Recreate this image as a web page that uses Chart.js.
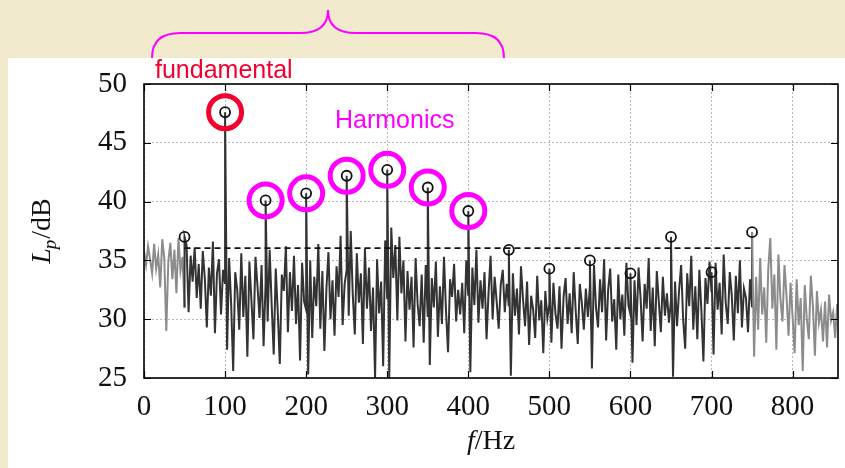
<!DOCTYPE html>
<html>
<head>
<meta charset="utf-8">
<script src="https://cdn.jsdelivr.net/npm/chart.js@4.4.1/dist/chart.umd.min.js"></script>
<style>
  html, body { margin: 0; padding: 0; background: #f1eacc; }
  #wrap { width: 845px; height: 468px; }
</style>
</head>
<body>
<div id="wrap"><canvas id="spectrum" width="845" height="468"></canvas></div>
<script>
// spectrum samples, 2.5 Hz apart, starting at 0 Hz (levels in dB)
const freqStep = 2.5;
const spectrumLevels = [
  35.8, 34.6, 36.2, 35.1, 33.9, 36.4, 34.3, 35.5, 32.7, 36.8, 35.2, 29.0, 34.9, 36.5, 33.4, 35.9, 32.2, 36.9, 34.1, 35.3,
  31.0, 36.3, 30.6, 35.4, 33.2, 36.1, 31.8, 34.7, 30.9, 35.8, 33.5, 29.3, 34.4, 32.0, 36.6, 28.8, 33.9, 35.1, 30.4, 34.2,
  33.0, 27.4, 35.2, 31.3, 25.6, 34.0, 32.5, 29.1, 35.6, 30.2, 33.7, 26.8, 34.9, 31.6, 28.3, 35.3, 32.8, 30.1, 34.6, 27.7,
  33.1, 29.8, 35.9, 31.2, 27.0, 34.3, 30.6, 26.2, 33.8, 32.4, 36.2, 28.9, 34.0, 30.7, 35.4, 29.6, 32.9, 26.5, 34.8, 31.5,
  30.8, 25.3, 35.0, 28.4, 33.6, 31.1, 36.4, 29.2, 34.1, 27.3, 32.6, 35.7, 30.0, 33.3, 28.6, 34.5, 31.9, 37.1, 29.5, 33.0,
  34.2, 30.3, 37.5, 32.1, 28.7, 35.6, 31.4, 33.9, 27.9, 36.0, 30.9, 34.4, 29.0, 32.7, 25.0, 35.1, 30.5, 33.2, 26.0, 36.7,
  31.7, 25.0, 37.8, 33.5, 36.3, 29.9, 37.0, 32.2, 35.0, 28.1, 34.1, 30.8, 33.6, 27.6, 35.2, 31.3, 29.4, 33.8, 28.0, 34.6,
  30.2, 26.1, 33.5, 31.0, 34.9, 28.5, 32.8, 29.6, 35.3, 30.7, 27.2, 33.4, 31.9, 34.7, 29.8, 32.5, 30.4, 33.1, 28.8, 35.0,
  32.0, 25.5, 34.4, 31.2, 35.9, 29.7, 33.3, 30.9, 34.0, 28.3, 32.3, 35.4, 30.0, 33.6, 31.5, 29.2, 32.9, 34.2, 30.6, 33.0,
  31.1, 25.2, 33.9, 30.3, 32.6, 28.7, 34.5, 31.7, 29.4, 33.2, 27.8, 32.0, 30.8, 28.4, 33.7, 29.9, 31.6, 27.1, 32.4, 30.1,
  31.3, 28.0, 33.1, 30.5, 29.2, 32.8, 27.5, 31.9, 33.5, 29.6, 32.2, 28.8, 34.0, 30.7, 27.9, 33.0, 31.4, 29.1, 32.6, 30.2,
  32.9, 25.8, 34.6, 31.0, 29.3, 33.4, 30.6, 35.1, 28.2, 32.5, 34.3, 29.8, 31.7, 27.4, 33.8, 30.0, 32.1, 28.6, 34.8, 31.2,
  30.4, 26.3, 33.3, 29.5, 34.4, 31.8, 28.1, 33.0, 30.9, 35.2, 29.0, 32.7, 27.7, 34.1, 31.5, 28.9, 33.6, 30.3, 32.2, 29.7,
  31.6, 25.1, 33.2, 29.4, 32.5, 34.6, 30.0, 27.5, 33.9, 31.1, 35.4, 29.1, 32.8, 28.3, 34.2, 30.7, 26.4, 33.5, 31.3, 34.9,
  32.3, 27.0, 34.8, 30.8, 33.1, 28.7, 35.5, 31.4, 29.6, 34.0, 32.0, 28.2, 33.7, 30.5, 35.0, 29.3, 32.6, 31.8, 28.9, 33.4,
  31.0, 26.8, 33.6, 29.1, 35.2, 30.4, 32.7, 28.0, 34.3, 36.9, 30.9, 33.8, 27.4, 35.5, 31.7, 29.8, 34.6, 32.0, 28.6, 33.1,
  30.2, 27.1, 33.4, 29.5, 31.8, 25.6, 32.9, 30.0, 28.3, 33.7, 31.2, 26.9, 32.4, 29.7, 30.8, 28.1, 31.5, 27.6, 32.1, 29.9,
  30.6, 28.4, 31.3
];

// marked harmonic peaks
const harmonicFreqs  = [50, 100, 150, 200, 250, 300, 350, 400, 450, 500, 550, 600, 650, 700, 750];
const harmonicLevels = [37.0, 47.6, 40.1, 40.7, 42.2, 42.7, 41.2, 39.2, 35.9, 34.3, 35.0, 33.9, 37.0, 34.0, 37.4];

// highlighted peaks (fundamental + harmonics)
const fundamentalFreq = 100;
const highlightFreqs = [100, 150, 200, 250, 300, 350, 400];

// dashed threshold line
const thresholdLevel = 36.05;
const thresholdFreqs = [50, 750];

const xTicks = [0, 100, 200, 300, 400, 500, 600, 700, 800];
const yTicks = [25, 30, 35, 40, 45, 50];

const darkLine = '#333333';
const greyLine = '#8c8c8c';
const red = '#f2002e';
const magenta = '#ff00ff';

// spectrum with the peak stems merged in at their frequencies
const spectrum = [];
spectrumLevels.forEach((v, i) => {
  const f = i * freqStep;
  spectrum.push({ x: f, y: v });
  const h = harmonicFreqs.indexOf(f);
  if (h >= 0) spectrum.push({ x: f, y: harmonicLevels[h] });
});

const peaks = harmonicFreqs.map((f, i) => ({ x: f, y: harmonicLevels[i] }));
const highlights = peaks.filter(p => highlightFreqs.includes(p.x));

const framePlugin = {
  id: 'frame',
  beforeDraw(chart) {
    const c = chart.ctx;
    c.save();
    c.fillStyle = '#f1eacc';
    c.fillRect(0, 0, chart.width, chart.height);
    c.fillStyle = '#ffffff';
    c.fillRect(8, 58, chart.width - 8, chart.height - 58);

    // brace over the fundamental + harmonics
    c.strokeStyle = magenta;
    c.lineWidth = 2;
    c.beginPath();
    c.moveTo(152, 58);
    c.quadraticCurveTo(152, 33, 180, 33);
    c.lineTo(300, 33);
    c.quadraticCurveTo(328, 33, 328, 10);
    c.quadraticCurveTo(328, 33, 356, 33);
    c.lineTo(476, 33);
    c.quadraticCurveTo(504, 33, 504, 58);
    c.stroke();
    c.restore();
  },
  afterDraw(chart) {
    const c = chart.ctx;
    const a = chart.chartArea;
    const xs = chart.scales.x, ys = chart.scales.y;
    c.save();
    // inward tick marks
    c.strokeStyle = '#000';
    c.lineWidth = 1.2;
    c.beginPath();
    xTicks.forEach(t => {
      const px = Math.round(xs.getPixelForValue(t)) + 0.5;
      c.moveTo(px, a.bottom); c.lineTo(px, a.bottom - 7);
      c.moveTo(px, a.top); c.lineTo(px, a.top + 7);
    });
    yTicks.forEach(t => {
      const py = Math.round(ys.getPixelForValue(t)) + 0.5;
      c.moveTo(a.left, py); c.lineTo(a.left + 7, py);
      c.moveTo(a.right, py); c.lineTo(a.right - 7, py);
    });
    c.stroke();
    // frame
    c.lineWidth = 1.6;
    c.strokeRect(a.left, a.top, a.right - a.left, a.bottom - a.top);

    // annotations
    c.textBaseline = 'alphabetic';
    c.textAlign = 'left';
    c.font = '25px "Liberation Sans", Arial, sans-serif';
    c.fillStyle = red;
    c.fillText('fundamental', 155, 78);
    c.fillStyle = magenta;
    c.fillText('Harmonics', 335, 128);

    // axis titles
    c.fillStyle = '#111';
    const serif = '"Liberation Serif", "Times New Roman", serif';
    // x: f/Hz
    c.font = 'italic 28px ' + serif;
    const fW = c.measureText('f').width;
    c.font = '28px ' + serif;
    const hzW = c.measureText('/Hz').width;
    let x0 = (a.left + a.right) / 2 - (fW + hzW) / 2;
    c.font = 'italic 28px ' + serif;
    c.fillText('f', x0, 449);
    c.font = '28px ' + serif;
    c.fillText('/Hz', x0 + fW, 449);

    // y: Lp/dB rotated
    c.translate(50, (a.top + a.bottom) / 2);
    c.rotate(-Math.PI / 2);
    c.font = 'italic 28px ' + serif;
    const lW = c.measureText('L').width;
    c.font = 'italic 19px ' + serif;
    const pW = c.measureText('p').width;
    c.font = '28px ' + serif;
    const dbW = c.measureText('/dB').width;
    let s = -(lW + pW + dbW) / 2;
    c.font = 'italic 28px ' + serif;
    c.fillText('L', s, 0);
    c.font = 'italic 19px ' + serif;
    c.fillText('p', s + lW - 1, 6);
    c.font = '28px ' + serif;
    c.fillText('/dB', s + lW + pW, 0);
    c.restore();
  }
};

new Chart(document.getElementById('spectrum'), {
  type: 'scatter',
  data: {
    datasets: [
      {
        label: 'highlight',
        data: highlights,
        showLine: false,
        pointRadius: 16.5,
        pointHoverRadius: 16.5,
        pointBorderWidth: 5,
        pointBackgroundColor: 'rgba(0,0,0,0)',
        pointBorderColor: highlights.map(p => p.x === fundamentalFreq ? red : magenta),
        order: 1
      },
      {
        label: 'peaks',
        data: peaks,
        showLine: false,
        pointRadius: 5,
        pointBorderWidth: 1.8,
        pointBackgroundColor: 'rgba(0,0,0,0)',
        pointBorderColor: '#111',
        order: 2
      },
      {
        label: 'threshold',
        data: thresholdFreqs.map(f => ({ x: f, y: thresholdLevel })),
        showLine: true,
        pointRadius: 0,
        borderColor: '#111',
        borderWidth: 1.8,
        borderDash: [6, 4],
        order: 3
      },
      {
        label: 'spectrum',
        data: spectrum,
        showLine: true,
        pointRadius: 0,
        borderWidth: 2,
        borderColor: darkLine,
        segment: {
          borderColor: ctx => (ctx.p0.parsed.x < 50 || ctx.p1.parsed.x > 750) ? greyLine : darkLine
        },
        order: 4
      }
    ]
  },
  options: {
    responsive: false,
    animation: false,
    layout: { autoPadding: false, padding: { left: 0, right: 7, top: 84, bottom: 0 } },
    plugins: { legend: { display: false }, tooltip: { enabled: false } },
    scales: {
      x: {
        type: 'linear',
        min: 0,
        max: 856,
        afterBuildTicks: scale => { scale.ticks = xTicks.map(v => ({ value: v })); },
        afterFit: scale => {
          scale.height = 90;
          scale.paddingLeft = 0;
          scale.paddingRight = 0;
        },
        grid: { color: '#b8b8b8', lineWidth: 1, drawTicks: false },
        border: { display: false, dash: [2, 2] },
        ticks: {
          padding: 12,
          color: '#111',
          maxRotation: 0,
          font: { family: '"Liberation Serif", "Times New Roman", serif', size: 29 }
        }
      },
      y: {
        min: 25,
        max: 50,
        afterBuildTicks: scale => { scale.ticks = yTicks.map(v => ({ value: v })); },
        afterFit: scale => {
          scale.width = 144;
          scale.paddingTop = 0;
          scale.paddingBottom = 0;
        },
        grid: { color: '#b8b8b8', lineWidth: 1, drawTicks: false },
        border: { display: false, dash: [2, 2] },
        ticks: {
          padding: 17,
          color: '#111',
          font: { family: '"Liberation Serif", "Times New Roman", serif', size: 29 }
        }
      }
    }
  },
  plugins: [framePlugin]
});
</script>
</body>
</html>
